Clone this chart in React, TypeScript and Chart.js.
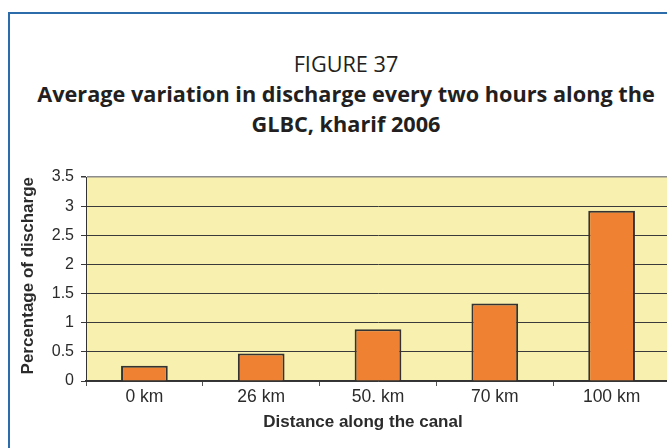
import React, { useEffect, useRef } from "react";
import { Chart, registerables } from "chart.js";

Chart.register(...registerables);

const categories = ["0 km", "26 km", "50. km", "70 km", "100 km"];
const discharge = [0.26, 0.47, 0.89, 1.33, 2.92];
const yMin = 0;
const yMax = 3.5;
const yStep = 0.5;

const figureLabel = "FIGURE 37";
const titleLines = [
  "Average variation in discharge every two hours along the",
  "GLBC, kharif 2006",
];
const xTitle = "Distance along the canal";
const yTitle = "Percentage of discharge";

const plotBg = {
  id: "plotBg",
  beforeDraw(chart: any) {
    const { ctx, chartArea } = chart;
    if (!chartArea) return;
    ctx.save();
    ctx.fillStyle = "#f8f0ae";
    ctx.fillRect(chartArea.left, chartArea.top, chartArea.right - chartArea.left, chartArea.bottom - chartArea.top);
    ctx.restore();
  },
};

const xTitlePlugin = {
  id: "xTitlePlugin",
  afterDraw(chart: any) {
    const { ctx, chartArea } = chart;
    ctx.save();
    ctx.font = "bold 17px 'Liberation Sans', Arial, sans-serif";
    ctx.fillStyle = "#2b2b2b";
    ctx.textAlign = "center";
    ctx.textBaseline = "middle";
    ctx.fillText(xTitle, chartArea.left + 277, chartArea.bottom + 41);
    ctx.restore();
  },
};

export default function App() {
  const canvasRef = useRef<HTMLCanvasElement | null>(null);

  useEffect(() => {
    const canvas = canvasRef.current;
    if (!canvas) return;
    const chart = new Chart(canvas, {
      type: "bar",
      data: {
        labels: categories,
        datasets: [
          {
            data: discharge,
            backgroundColor: "#ef8232",
            borderColor: "#333333",
            borderWidth: 2,
            categoryPercentage: 1,
            barPercentage: 0.4,
          },
        ],
      },
      options: {
        animation: false,
        responsive: false,
        maintainAspectRatio: false,
        layout: { padding: { top: 177, right: 2, left: 0, bottom: 0 } },
        plugins: {
          legend: { display: false },
          tooltip: { enabled: false },
          title: { display: false },
        },
        scales: {
          x: {
            offset: true,
            grid: {
              display: true,
              offset: true,
              drawOnChartArea: false,
              drawTicks: true,
              tickLength: 5,
              tickColor: "#555555",
            },
            border: { display: true, color: "#333333", width: 1.5 },
            ticks: {
              color: "#2b2b2b",
              font: { family: "'Liberation Sans', Arial, sans-serif", size: 17.5 },
              padding: 1,
            },
            afterFit(scale: any) {
              scale.height = 67;
            },
          },
          y: {
            min: yMin,
            max: yMax,
            ticks: {
              stepSize: yStep,
              color: "#2b2b2b",
              font: { family: "'Liberation Sans', Arial, sans-serif", size: 16 },
              padding: 7,
              callback: (v: any) => String(Number(v)),
            },
            grid: {
              color: (c: any) => (c.tick && c.tick.value === yMax ? "#8c8c8c" : "#3a3a3a"),
              lineWidth: (c: any) => (c.tick && c.tick.value === yMax ? 1.5 : 1),
              tickColor: "#3a3a3a",
              tickLength: 5,
            },
            border: { display: true, color: "#333333", width: 1 },
            title: {
              display: true,
              text: yTitle,
              align: "end",
              color: "#2b2b2b",
              font: { family: "'Liberation Sans', Arial, sans-serif", size: 17, weight: "bold" },
              padding: { top: 18, bottom: 0 },
            },
            afterFit(scale: any) {
              scale.width = 86;
            },
          },
        },
      },
      plugins: [plotBg, xTitlePlugin],
    });
    return () => chart.destroy();
  }, []);

  return (
    <div
      style={{
        position: "fixed",
        left: 0,
        top: 0,
        width: 667,
        height: 448,
        overflow: "hidden",
        background: "#ffffff",
      }}
    >
      <div
        style={{
          position: "absolute",
          left: 8,
          top: 12,
          width: 720,
          height: 520,
          borderLeft: "2.5px solid #2d6cab",
          borderTop: "2.5px solid #2d6cab",
        }}
      />
      <div
        style={{
          position: "absolute",
          left: 0,
          top: 49,
          width: 692,
          textAlign: "center",
          fontFamily: "'Open Sans', 'Noto Sans', sans-serif",
          fontSize: 21.7,
          lineHeight: "30px",
          color: "#231f20",
        }}
      >
        <div>{figureLabel}</div>
        {titleLines.map((t) => (
          <div key={t} style={{ fontWeight: 700 }}>
            {t}
          </div>
        ))}
      </div>
      <canvas
        ref={canvasRef}
        width={672}
        height={448}
        style={{ position: "absolute", left: 0, top: 0, width: 672, height: 448 }}
      />
    </div>
  );
}
